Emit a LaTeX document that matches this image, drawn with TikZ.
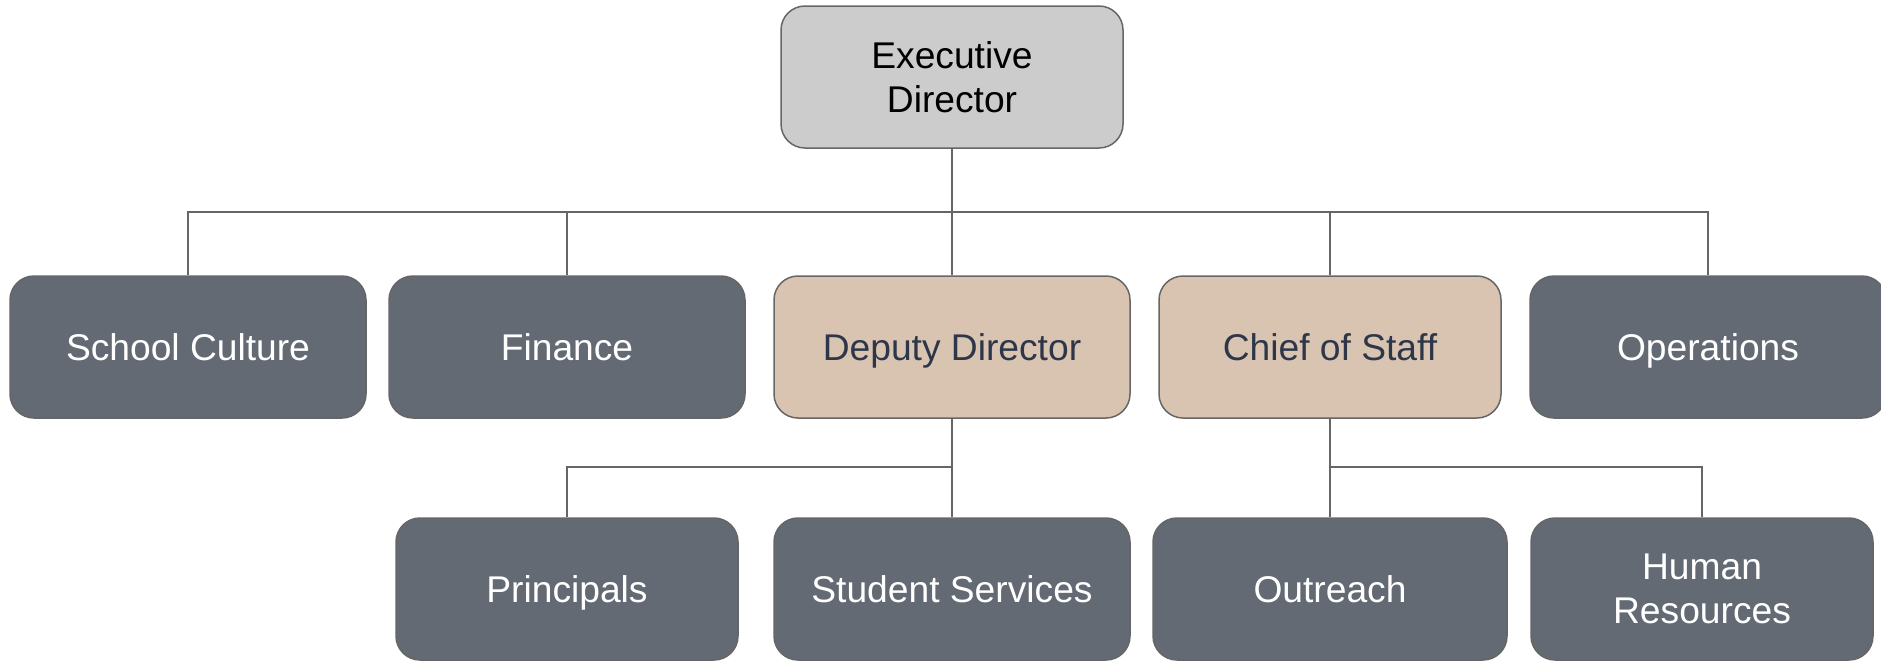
\documentclass[tikz,border=0pt]{standalone}
\usepackage{fontspec}
\setmainfont{Liberation Sans}
\usepackage{tikz}
\usetikzlibrary{positioning}
\definecolor{boxgray}{HTML}{636A73}
\definecolor{boxtan}{HTML}{D9C4B1}
\definecolor{boxtop}{HTML}{CCCCCC}
\definecolor{linegray}{HTML}{666666}
\definecolor{tantext}{HTML}{2E374A}
\tikzset{
	unit/.style={rounded corners=12pt, draw=linegray, line width=0.75pt, minimum height=71pt, align=center, font=\fontsize{18.6}{21.8}\selectfont},
	oneline/.style={text height=15.2pt, text depth=2pt},
	dept/.style={unit, oneline, fill=boxgray, text=white, minimum width=178pt},
	lead/.style={unit, oneline, fill=boxtan, text=tantext},
	link/.style={draw=linegray, line width=0.75pt}
}

\begin{document}
\begin{tikzpicture}[x=0.5pt, y=-0.5pt]
		\useasboundingbox (0,0) rectangle (1881,660);
		% top
		\node (ed) at (952,77) [unit, fill=boxtop, text=black, minimum width=171pt] {Executive\\Director};
		% first row
		\node (sc) at (188,347) [dept] {School Culture};
		\node (fin) at (567,347) [dept] {Finance};
		\node (dd) at (952,347) [lead, minimum width=178pt] {Deputy Director};
		\node (cos) at (1330,347) [lead, minimum width=171pt] {Chief of Staff};
		\node (ops) at (1708,347) [dept] {Operations};
		% second row
		\node (pr) at (567,589) [dept, minimum width=171pt] {Principals};
		\node (ss) at (952,589) [dept] {Student Services};
		\node (out) at (1330,589) [dept, minimum width=177pt] {Outreach};
		\node (hr) at (1702,589) [unit, fill=boxgray, text=white, minimum width=171pt] {Human\\Resources};
		% bars
		\coordinate (bar1) at (0,212);
		\coordinate (bar2) at (0,467);
		\foreach \n in {sc,fin,dd,cos,ops} {
			\draw[link] (ed.south) -- (ed.south |- bar1) -| (\n.north);
		}
		\foreach \n in {pr,ss} {
			\draw[link] (dd.south) -- (dd.south |- bar2) -| (\n.north);
		}
		\foreach \n in {out,hr} {
			\draw[link] (cos.south) -- (cos.south |- bar2) -| (\n.north);
		}
	\end{tikzpicture}
\end{document}
